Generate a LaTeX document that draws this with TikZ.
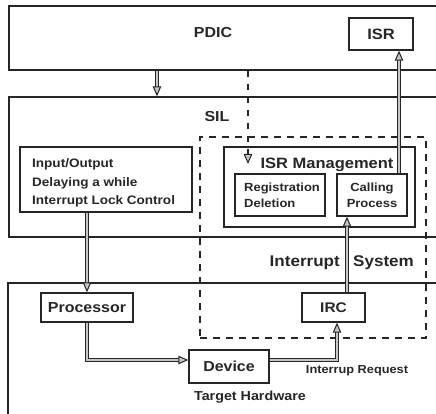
\documentclass[tikz,border=0pt]{standalone}
\usepackage{fontspec}
\setmainfont[FakeStretch=1.1]{Liberation Sans}
\usetikzlibrary{arrows.meta,calc}

\definecolor{ink}{gray}{0.15}

\tikzset{
  frame/.style={draw=ink, line width=1.4pt, rectangle, inner sep=0pt},
  sysframe/.style={draw=ink, line width=1.6pt, rectangle, inner sep=0pt, dash pattern=on 7pt off 6pt},
  box/.style={draw=ink, line width=1.4pt, rectangle, inner sep=0pt},
  lbl/.style={text=ink, inner sep=0pt, font=\bfseries},
  tip/.style={-{Triangle[open, length=10pt, width=8.5pt, line width=1pt, fill=gray!45]}},
  link/.style={draw=ink, line width=0.8pt, double=gray!45, double distance=1.6pt, tip},
  dlink/.style={draw=ink, line width=2pt, dash pattern=on 6pt off 7pt, tip}
}

\begin{document}
\begin{tikzpicture}[x=1pt, y=-1pt]
  \useasboundingbox (0,0) rectangle (436,414);
  \clip (0,0) rectangle (436,414);

  % layer frames (they run on past the right and bottom edges)
  \node[frame, minimum width=451pt, minimum height=64pt]  (pdic) at (234.5,38) {};
  \node[frame, minimum width=451pt, minimum height=140pt] (sil)  at (234.5,167) {};
  \node[frame, minimum width=452pt, minimum height=157pt] (hw)   at (234,361.5) {};
  \node[sysframe, minimum width=226pt, minimum height=201pt] (intsys) at (313,237.5) {};

  % layer titles
  \node[lbl, font=\bfseries\fontsize{14.5}{16}\selectfont] (pdicT) at (213,33) {PDIC};
  \node[lbl, font=\bfseries\fontsize{14.5}{16}\selectfont] (silT)  at (217,117) {SIL};
  % the IRC link passes between the two words
  \node[lbl, anchor=base east, font=\bfseries\fontsize{15.5}{18}\selectfont] (intT) at (340,266) {Interrupt};
  \node[lbl, anchor=base west, font=\bfseries\fontsize{15.5}{18}\selectfont] (sysT) at (353,266) {System};
  \node[lbl, font=\bfseries\fontsize{13}{15}\selectfont] (hwT)  at (250,397) {Target Hardware};

  % inner boxes
  \node[box, minimum width=64pt, minimum height=32pt] (isr) at (381,34) {};
  \node[lbl, font=\bfseries\fontsize{15}{17}\selectfont] at (isr) {ISR};

  \node[box, minimum width=172pt, minimum height=65pt] (io) at (106,179.5) {};
  \node[lbl, anchor=west, align=left, font=\bfseries\fontsize{12.3}{18.5}\selectfont] (ioT) at (32,183)
    {Input/Output\\Delaying a while\\Interrupt Lock Control};

  \node[box, minimum width=191pt, minimum height=80pt] (isrm) at (319.5,187) {};
  \node[lbl, font=\bfseries\fontsize{15}{17}\selectfont] (isrmT) at (327,165) {ISR Management};

  \node[box, minimum width=90pt, minimum height=42pt] (regdel) at (280,195) {};
  \node[lbl, anchor=west, align=left, font=\bfseries\fontsize{11.8}{16}\selectfont] at (244,195)
    {Registration\\Deletion};

  \node[box, minimum width=70pt, minimum height=42pt] (calling) at (372,195) {};
  \node[lbl, align=center, font=\bfseries\fontsize{11.8}{16}\selectfont] at (calling)
    {Calling\\Process};

  \node[box, minimum width=92pt, minimum height=29pt] (proc) at (87,307.5) {};
  \node[lbl, font=\bfseries\fontsize{14.5}{16}\selectfont] at (proc) {Processor};

  \node[box, minimum width=63pt, minimum height=29pt] (irc) at (333.5,307.5) {};
  \node[lbl, font=\bfseries\fontsize{14}{16}\selectfont] at (irc) {IRC};

  \node[box, minimum width=80pt, minimum height=33pt] (device) at (229,366.5) {};
  \node[lbl, font=\bfseries\fontsize{14.5}{16}\selectfont] at (device) {Device};

  \node[lbl, font=\bfseries\fontsize{11.6}{14}\selectfont] (irqT) at (357,371) {Interrup Request};

  % guide positions for the connectors
  \coordinate (xa) at (157,0);
  \coordinate (xd) at (248,0);
  \coordinate (xr) at (399,0);
  \coordinate (xi) at (347,0);
  \coordinate (xj) at (337,0);
  \coordinate (yd) at (0,360);
  \coordinate (mgrtip) at (248,164);

  % connectors
  \draw[link] (pdic.south -| xa) -- (sil.north -| xa);
  \draw[dlink] (pdic.south -| xd) -- (mgrtip);
  \draw[link] (calling.north -| xr) -- (isr.south -| xr);
  \draw[link] (io.south -| proc.north) -- (proc.north);
  \draw[link] (irc.north -| xi) -- (calling.south -| xi);
  \draw[link] (proc.south) |- (device.west |- yd);
  \draw[link] (device.east |- yd) -| (irc.south -| xj);
\end{tikzpicture}
\end{document}
